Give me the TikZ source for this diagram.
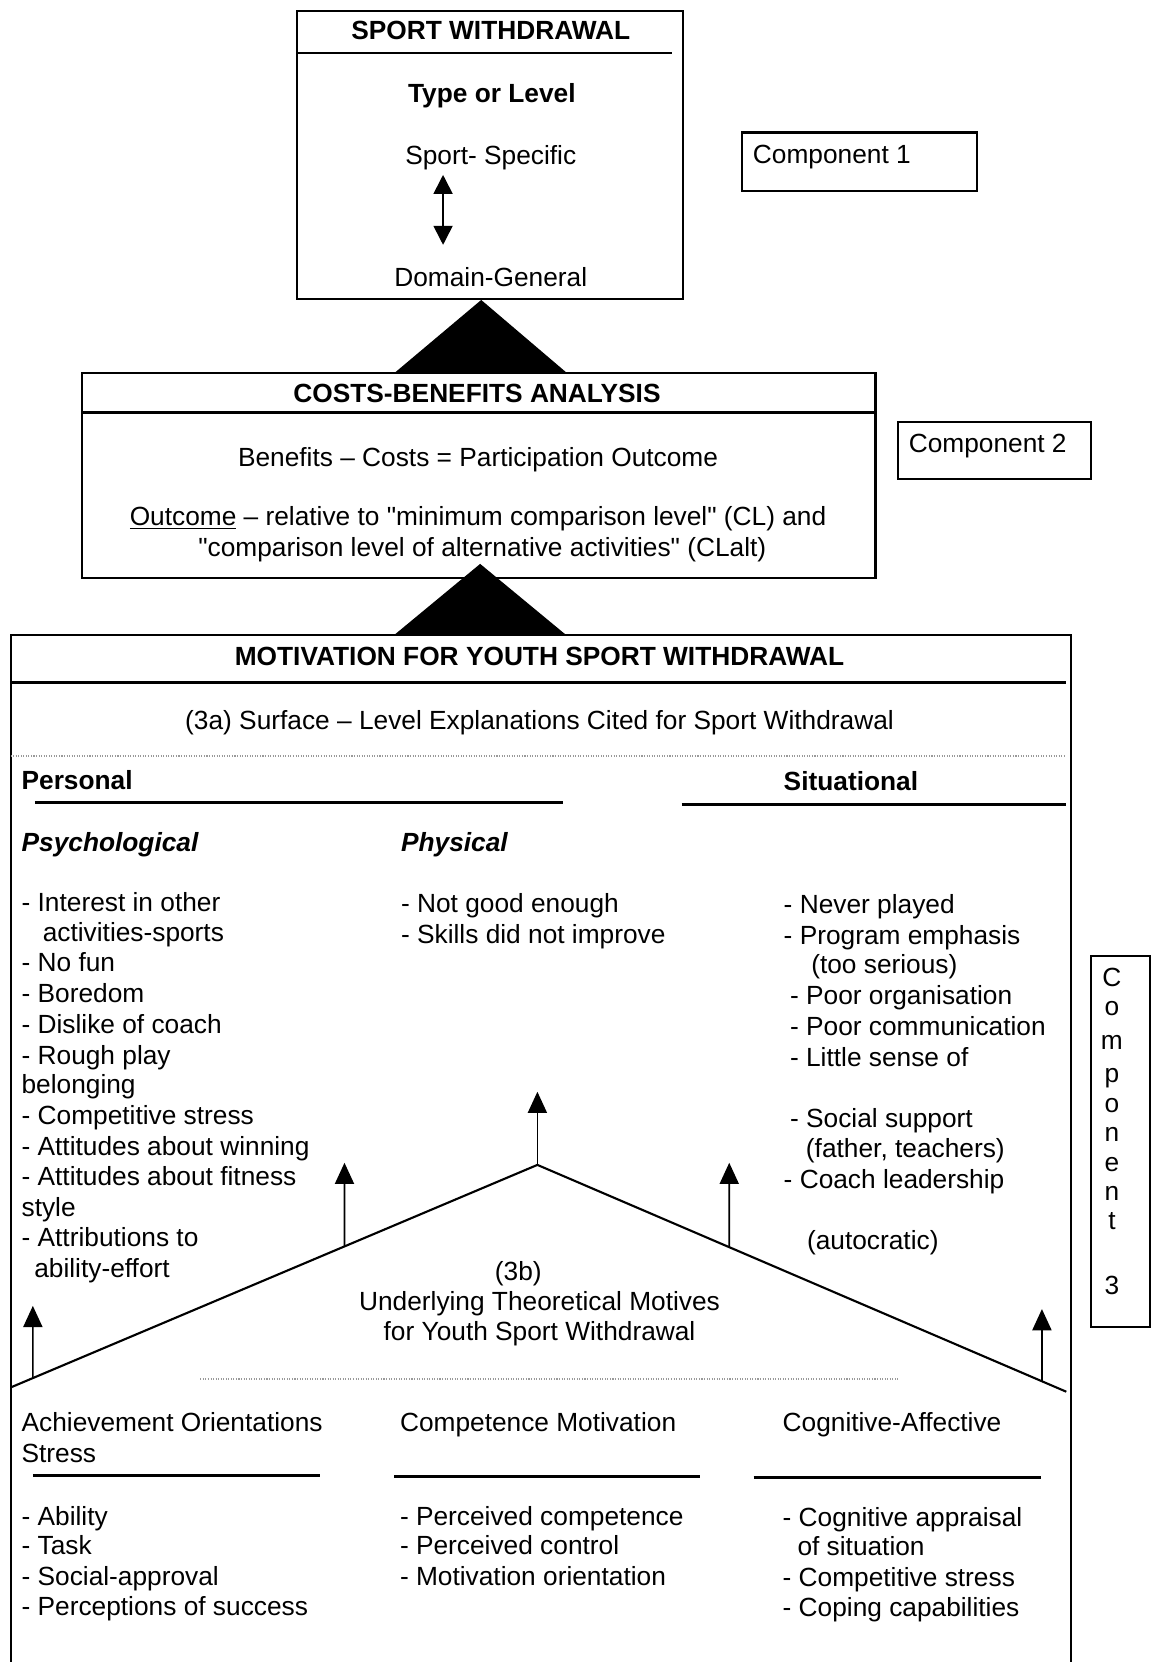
\documentclass[tikz,border=0pt]{standalone}
\usepackage{fontspec}
% straight double quotes are kept as typed
\setmainfont{Liberation Sans}[Ligatures=TeXOff]
\usetikzlibrary{arrows.meta,calc}
\newcommand\bodyfont{\fontsize{12.4}{14.5}\selectfont}
\begin{document}
\begin{tikzpicture}[x=0.5pt,y=-0.5pt,
  frame/.style={draw, line width=1pt},
  rule/.style={line width=1.2pt},
  dots/.style={line width=0.9pt, gray!80, dash pattern=on 0.5pt off 0.7pt},
  txt/.style={inner sep=0pt, font=\bodyfont, text height=8.9pt, text depth=0pt},
  lbl/.style={txt, anchor=west},
  ctr/.style={txt, anchor=center},
  bld/.style={font=\bodyfont\bfseries},
  tip/.style={-{Triangle[width=9pt,length=10pt]}, line width=0.8pt},
  twotip/.style={{Triangle[width=9pt,length=9pt]}-{Triangle[width=9pt,length=9pt]}, line width=0.8pt},
]
\useasboundingbox (0,0) rectangle (1094,1568);
\fill[white] (0,0) rectangle (1094,1568);

% ---------- Component 1: sport withdrawal ----------
\draw[frame] (280,10) rectangle (644,282);
\draw[rule] (280,50) -- (634,50);
\node[ctr,bld] (swtitle) at (463,28) {SPORT WITHDRAWAL};
\node[ctr,bld] (type) at (464,88) {Type or Level};
\node[ctr] (spec) at (463,146) {Sport- Specific};
\node[ctr] (gen) at (463,261) {Domain-General};
\coordinate (dtop) at (418,165);
\coordinate (dbot) at (418,231);
\draw[twotip] (dtop) -- (dbot);

\draw[frame] (700,125) rectangle (922,180);
\node[lbl] (c1) at (710,145) {Component 1};

% solid wedge between component 1 and 2
\fill (454,283) -- (372,352) -- (535,352) -- cycle;

% ---------- Component 2: costs-benefits analysis ----------
\draw[frame] (77,352) rectangle (826,545);
\draw[rule] (77,389) -- (826,389);
\node[ctr,bld] (cbtitle) at (450,371) {COSTS-BENEFITS ANALYSIS};
\node[ctr] (eq) at (451,431) {Benefits – Costs = Participation Outcome};
\node[ctr] (out1) at (451,487) {\underline{Outcome} – relative to "minimum comparison level" (CL) and};
\node[ctr] (out2) at (455,516) {"comparison level of alternative activities" (CLalt)};

\draw[frame] (847,398) rectangle (1029,452);
\node[lbl] (c2) at (857,418) {Component 2};

% solid wedge between component 2 and 3
\fill (453,532) -- (372,599) -- (534,599) -- cycle;

% ---------- Component 3: motivation ----------
\draw[frame] (10,1568) -- (10,599) -- (1010,599) -- (1010,1568);
\draw[rule] (10,644) -- (1006,644);
\node[ctr,bld] (mtitle) at (509,619) {MOTIVATION FOR YOUTH SPORT WITHDRAWAL};
\node[ctr] (surf) at (509,679) {(3a) Surface – Level Explanations Cited for Sport Withdrawal};
\draw[dots] (10,713) -- (1004,713);

\node[lbl,bld] (pers) at (20,736) {Personal};
\draw[rule] (33,757) -- (531,757);
\node[lbl,bld] (sit) at (739,737) {Situational};
\draw[rule] (643,759) -- (1006,759);

\node[lbl,font=\bodyfont\bfseries\itshape] (psy) at (20,794) {Psychological};
\node[lbl,font=\bodyfont\bfseries\itshape] (phy) at (378,794) {Physical};

\foreach \t/\x/\y [count=\i] in {
  {- Interest in other}/20/851,
  {activities-sports}/40/879,
  {- No fun}/20/908,
  {- Boredom}/20/937,
  {- Dislike of coach}/20/966,
  {- Rough play}/20/995,
  {belonging}/20/1023,
  {- Competitive stress}/20/1052,
  {- Attitudes about winning}/20/1081,
  {- Attitudes about fitness}/20/1110,
  {style}/20/1139,
  {- Attributions to}/20/1167,
  {ability-effort}/32/1196}
  \node[lbl] (psy\i) at (\x,\y) {\t};

\node[lbl] (phy1) at (378,852) {- Not good enough};
\node[lbl] (phy2) at (378,881) {- Skills did not improve};

\foreach \t/\x/\y [count=\i] in {
  {- Never played}/739/853,
  {- Program emphasis}/739/882,
  {(too serious)}/765/910,
  {- Poor organisation}/745/939,
  {- Poor communication}/745/968,
  {- Little sense of}/745/997,
  {- Social support}/745/1055,
  {(father, teachers)}/760/1083,
  {- Coach leadership}/739/1112,
  {(autocratic)}/761/1170}
  \node[lbl] (sit\i) at (\x,\y) {\t};

% vertical label of component 3
\draw[frame] (1029,902) rectangle (1085,1252);
\foreach \c/\y [count=\i] in {C/922, o/949, m/981, p/1012, o/1041, n/1068, e/1096, n/1124, t/1151, 3/1212}
  \node[ctr] (cv\i) at (1049,\y) {\c};

% underlying motives: roof with arrows up to the surface reasons
\coordinate (apex) at (507,1099);
\coordinate (tl) at (10,1309);
\coordinate (tr) at (1006,1313);
\draw[line width=1pt] (tl) -- (apex) -- (tr);

\coordinate (bL1) at ($(apex)!0.3662!(tl)$);
\coordinate (bL2) at ($(apex)!0.9577!(tl)$);
\coordinate (bR1) at ($(apex)!0.3627!(tr)$);
\coordinate (bR2) at ($(apex)!0.9539!(tr)$);
\coordinate (tC) at (507,1030);
\coordinate (tL1) at (325,1097);
\coordinate (tL2) at (31,1232);
\coordinate (tR1) at (688,1097);
\coordinate (tR2) at (983,1235);
\draw[tip] (apex) -- (tC);
\draw[tip] (bL1) -- (tL1);
\draw[tip] (bL2) -- (tL2);
\draw[tip] (bR1) -- (tR1);
\draw[tip] (bR2) -- (tR2);

\node[ctr] (b3) at (489,1199) {(3b)};
\node[ctr] (und1) at (509,1227) {Underlying Theoretical Motives};
\node[ctr] (und2) at (509,1256) {for Youth Sport Withdrawal};
\draw[dots] (189,1301) -- (848,1301);

% three theoretical columns
\node[lbl] (ach) at (20,1342) {Achievement Orientations};
\node[lbl] (str) at (20,1371) {Stress};
\draw[rule] (31,1392) -- (302,1392);
\node[lbl] (com) at (377,1342) {Competence Motivation};
\draw[rule] (372,1393) -- (660,1393);
\node[lbl] (cog) at (738,1342) {Cognitive-Affective};
\draw[rule] (711,1394) -- (982,1394);

\foreach \t/\y [count=\i] in {{- Ability}/1430, {- Task}/1458, {- Social-approval}/1487, {- Perceptions of success}/1515}
  \node[lbl] (ach\i) at (20,\y) {\t};
\foreach \t/\y [count=\i] in {{- Perceived competence}/1430, {- Perceived control}/1458, {- Motivation orientation}/1487}
  \node[lbl] (com\i) at (377,\y) {\t};
\foreach \t/\x/\y [count=\i] in {{- Cognitive appraisal}/738/1431, {of situation}/752/1459, {- Competitive stress}/738/1488, {- Coping capabilities}/738/1516}
  \node[lbl] (cog\i) at (\x,\y) {\t};
\end{tikzpicture}
\end{document}
